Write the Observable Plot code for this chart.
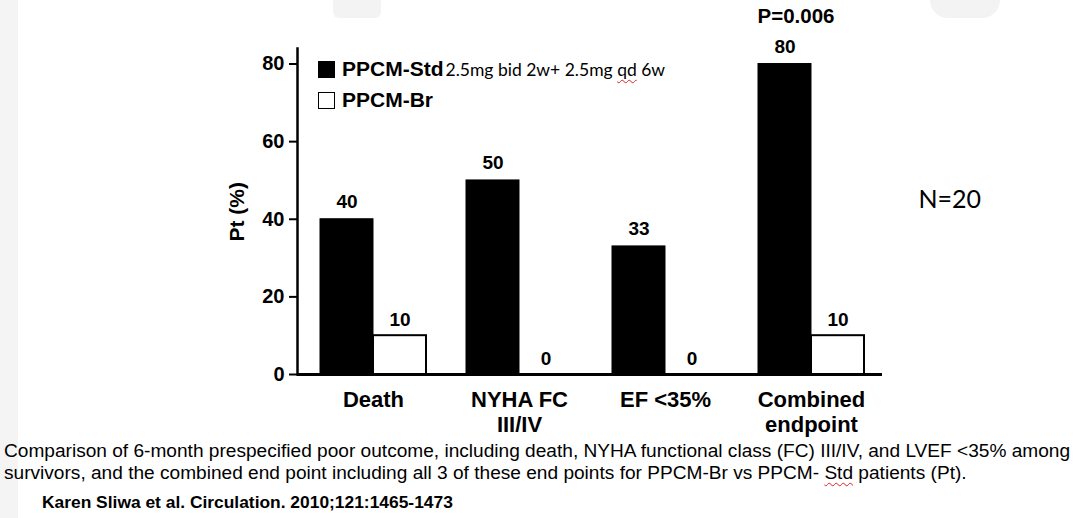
<!DOCTYPE html>
<html><head><meta charset="utf-8">
<script src="https://cdn.jsdelivr.net/npm/d3@7"></script>
<script src="https://cdn.jsdelivr.net/npm/@observablehq/plot@0.6"></script>
<style>
html,body{margin:0;padding:0;background:#fff;}
body{width:1080px;height:518px;overflow:hidden;position:relative;font-family:"Liberation Sans",Arial,sans-serif;color:#000;}
#wm-left{position:absolute;left:0;top:0;width:18px;height:518px;background:#f4f4f4;}
#wm-a{position:absolute;left:333px;top:0;width:48px;height:18px;background:#f3f3f3;border-radius:0 0 6px 6px;}
#wm-b{position:absolute;left:930px;top:0;width:70px;height:18px;background:#f3f3f3;border-radius:0 0 20px 20px;}
#chart{position:absolute;left:0;top:0;}
.legend{position:absolute;left:318px;font-weight:bold;font-size:21px;line-height:21px;white-space:nowrap;}
.sw{display:inline-block;width:17px;height:17px;vertical-align:-2px;margin-right:7px;box-sizing:border-box;}
.note{font-family:Lato,"Open Sans",sans-serif;font-weight:normal;font-size:17.5px;margin-left:2px;}
.sq{text-decoration:underline wavy #d22;text-decoration-thickness:1px;text-underline-offset:3px;}
#caption{position:absolute;left:4px;top:440px;width:1300px;font-family:"Liberation Sans",Arial,sans-serif;font-size:19.1px;line-height:22px;}
#source{position:absolute;left:42px;top:492px;font-family:"Liberation Sans",Arial,sans-serif;font-weight:bold;font-size:17.4px;}
</style>
</head><body>
<div id="wm-left"></div><div id="wm-a"></div><div id="wm-b"></div>
<div id="chart"></div>
<div class="legend" style="top:58px"><span class="sw" style="background:#000"></span>PPCM-Std<span class="note">2.5mg bid 2w+ 2.5mg <span class="sq">qd</span> 6w</span></div>
<div class="legend" style="top:89px"><span class="sw" style="background:#fff;border:1.5px solid #000"></span>PPCM-Br</div>
<div id="caption">Comparison of 6-month prespecified poor outcome, including death, NYHA functional class (FC) III/IV, and LVEF &lt;35% among<br>survivors, and the combined end point including all 3 of these end points for PPCM-Br vs PPCM- <span class="sq">Std</span> patients (Pt).</div>
<div id="source">Karen Sliwa et al. Circulation. 2010;121:1465-1473</div>
<script>
const categories = ["Death", "NYHA FC\nIII/IV", "EF <35%", "Combined\nendpoint"];
const series = ["PPCM-Std", "PPCM-Br"];
const stdValues = [40, 50, 33, 80];
const brValues = [10, 0, 0, 10];
const yTicks = [0, 20, 40, 60, 80];
const pNote = [{category: "Combined\nendpoint", value: 80, text: "P=0.006"}];
const nNote = ["N=20"];
const yLabel = "Pt (%)";

const stdRows = categories.map((c, i) => ({category: c, series: series[0], value: stdValues[i]}));
const brRows = categories.map((c, i) => ({category: c, series: series[1], value: brValues[i]}));

const W = 1080, H = 432, mL = 297, mR = 198, mT = 48, mB = 58;
const pi = 0.274, po = 0.14, al = 0.56;
const bw = d3.scaleBand().domain(categories).range([mL, W - mR]).paddingInner(pi).paddingOuter(po).align(al).bandwidth();
const half = bw / 2;
const font = "Liberation Sans, Arial, sans-serif";

const chart = Plot.plot({
  width: W, height: H,
  marginLeft: mL, marginRight: mR, marginTop: mT, marginBottom: mB,
  style: {fontFamily: font, color: "#000", background: "transparent", overflow: "visible"},
  x: {type: "band", domain: categories, paddingInner: pi, paddingOuter: po, align: al},
  y: {domain: [0, 84]},
  marks: [
    Plot.barY(stdRows, {x: "category", y: "value", fill: "#000", stroke: "#000", strokeWidth: 1, insetRight: half}),
    Plot.barY(brRows, {x: "category", y: "value", fill: "#fff", stroke: "#000", strokeWidth: 2, insetLeft: half}),
    Plot.text(stdRows, {x: "category", y: "value", text: d => String(d.value), dx: -half / 2, dy: -11, lineAnchor: "bottom", fontSize: 19, fontWeight: "bold"}),
    Plot.text(brRows, {x: "category", y: "value", text: d => String(d.value), dx: half / 2, dy: -10, lineAnchor: "bottom", fontSize: 19, fontWeight: "bold"}),
    Plot.text(pNote, {x: "category", y: "value", text: "text", dx: -half / 2 + 11, dy: -41, lineAnchor: "bottom", fontSize: 20.5, fontWeight: "bold"}),
    Plot.ruleY([0], {strokeWidth: 3}),
    Plot.frame({anchor: "left", strokeWidth: 2.5}),
    Plot.axisY({ticks: yTicks, tickSize: 8, tickPadding: 5, fontSize: 20, fontWeight: "bold", strokeWidth: 2, label: null}),
    Plot.axisX({tickSize: 0, tickPadding: 15, fontSize: 22, fontWeight: "bold", lineHeight: 1.12, label: null}),
    Plot.text([yLabel], {frameAnchor: "left", rotate: -90, dx: -60, dy: 30, fontSize: 21, fontWeight: "bold"}),
    Plot.text(nNote, {frameAnchor: "right", textAnchor: "start", dx: 36, dy: -12, fontSize: 25, fontFamily: "Lato, Open Sans, sans-serif"})
  ]
});
document.getElementById("chart").appendChild(chart);
</script>
</body></html>
